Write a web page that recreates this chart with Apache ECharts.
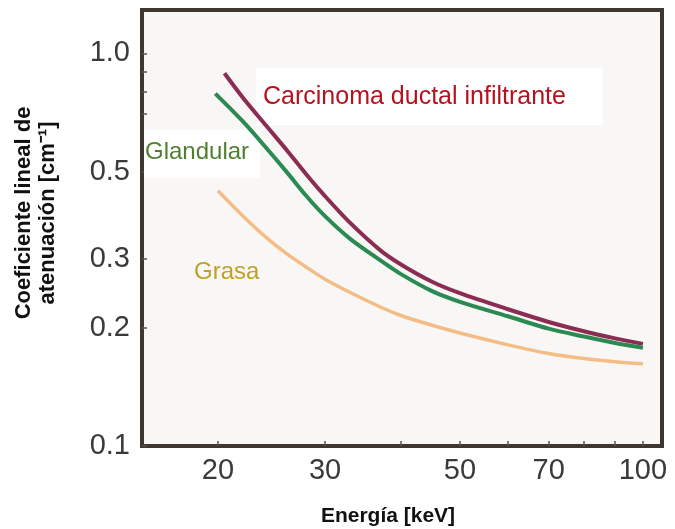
<!DOCTYPE html>
<html>
<head>
<meta charset="utf-8">
<script src="https://cdn.jsdelivr.net/npm/echarts@6/dist/echarts.min.js"></script>
<style>
  html, body { margin: 0; padding: 0; background: #fff; }
  #chart { width: 675px; height: 529px; }
</style>
</head>
<body>
<div id="chart"></div>
<script>
// energia en keV y coeficiente lineal de atenuacion en cm^-1
var energiaCarcinoma = [20.5, 22, 24, 26, 28, 30, 33, 37, 40, 45, 50, 60, 70, 80, 90, 100];
var muCarcinoma = [0.89, 0.77, 0.655, 0.565, 0.49, 0.433, 0.37, 0.315, 0.29, 0.262, 0.245, 0.223, 0.207, 0.196, 0.188, 0.182];

var energiaGlandular = [19.8, 22, 24, 26, 28, 30, 33, 37, 40, 45, 50, 60, 70, 80, 90, 100];
var muGlandular = [0.79, 0.67, 0.575, 0.497, 0.432, 0.385, 0.337, 0.297, 0.274, 0.248, 0.233, 0.214, 0.199, 0.190, 0.183, 0.178];

var energiaGrasa = [20, 22, 24, 26, 28, 30, 33, 37, 40, 45, 50, 60, 70, 80, 90, 100];
var muGrasa = [0.447, 0.385, 0.34, 0.308, 0.285, 0.266, 0.246, 0.226, 0.215, 0.203, 0.194, 0.181, 0.172, 0.167, 0.164, 0.162];

var xTicks = [20, 30, 40, 50, 60, 70, 80, 90, 100];
var xLabels = [20, 30, 50, 70, 100];
var yTicks = [0.1, 0.2, 0.3, 0.5, 0.7, 0.8, 0.9, 1.0];
var yLabels = [0.1, 0.2, 0.3, 0.5, 1.0];

function pares(xs, ys) {
  return xs.map(function (x, i) { return [x, ys[i]]; });
}

var fuente = 'Liberation Sans, Arial, Helvetica, sans-serif';
var myChart = echarts.init(document.getElementById('chart'));

var option = {
  animation: false,
  backgroundColor: '#ffffff',
  grid: {
    left: 142, right: 13, top: 10, bottom: 83,
    show: true,
    backgroundColor: '#f8f7f5',
    borderColor: '#3d3631',
    borderWidth: 4
  },
  xAxis: {
    type: 'log',
    min: 15,
    max: 107.5,
    axisLine: { show: false },
    splitLine: { show: false },
    axisTick: {
      show: true, inside: true, length: 5,
      customValues: xTicks,
      lineStyle: { color: '#5a544f', width: 1.5 }
    },
    axisLabel: {
      customValues: xLabels,
      margin: 10,
      fontSize: 29,
      fontFamily: fuente,
      color: '#3a3a3a'
    }
  },
  yAxis: {
    type: 'log',
    min: 0.1,
    max: 1.29,
    axisLine: { show: false },
    splitLine: { show: false },
    axisTick: {
      show: true, inside: true, length: 5,
      customValues: yTicks,
      lineStyle: { color: '#5a544f', width: 1.5 }
    },
    axisLabel: {
      customValues: yLabels,
      margin: 12,
      fontSize: 29,
      fontFamily: fuente,
      color: '#3a3a3a',
      formatter: function (v) { return Number(v).toFixed(1); }
    }
  },
  graphic: [
    // titulos de ejes
    {
      type: 'text', x: 388, y: 516,
      style: {
        text: 'Energía [keV]', fontSize: 21, fontWeight: 'bold', fontFamily: fuente,
        fill: '#111', align: 'center', verticalAlign: 'middle'
      }
    },
    {
      type: 'text', x: 24, y: 213, rotation: Math.PI / 2,
      style: {
        text: 'Coeficiente lineal de', fontSize: 22, fontWeight: 'bold', fontFamily: fuente,
        fill: '#111', align: 'center', verticalAlign: 'middle'
      }
    },
    {
      type: 'text', x: 48, y: 213, rotation: Math.PI / 2,
      style: {
        text: 'atenuación [cm⁻¹]', fontSize: 22, fontWeight: 'bold', fontFamily: fuente,
        fill: '#111', align: 'center', verticalAlign: 'middle'
      }
    },
    // etiquetas de las curvas
    {
      type: 'rect', shape: { x: 256, y: 68, width: 347, height: 57 },
      style: { fill: '#ffffff' }, z: 5
    },
    {
      type: 'text', x: 263, y: 97, z: 6,
      style: {
        text: 'Carcinoma ductal infiltrante', fontSize: 25, fontFamily: fuente,
        fill: '#b3121f', align: 'left', verticalAlign: 'middle'
      }
    },
    {
      type: 'rect', shape: { x: 144, y: 130, width: 116, height: 48 },
      style: { fill: '#ffffff' }, z: 5
    },
    {
      type: 'text', x: 145, y: 152, z: 6,
      style: {
        text: 'Glandular', fontSize: 24, fontFamily: fuente,
        fill: '#4e7f30', align: 'left', verticalAlign: 'middle'
      }
    },
    {
      type: 'text', x: 194, y: 272, z: 6,
      style: {
        text: 'Grasa', fontSize: 24, fontFamily: fuente,
        fill: '#bea224', align: 'left', verticalAlign: 'middle'
      }
    }
  ],
  series: [
    {
      name: 'Grasa', type: 'line', smooth: 0.3, showSymbol: false, z: 10,
      lineStyle: { color: '#f4bd86', width: 3.5 },
      data: pares(energiaGrasa, muGrasa)
    },
    {
      name: 'Carcinoma ductal infiltrante', type: 'line', smooth: 0.3, showSymbol: false, z: 10,
      lineStyle: { color: '#8b2c52', width: 4 },
      data: pares(energiaCarcinoma, muCarcinoma)
    },
    {
      name: 'Glandular', type: 'line', smooth: 0.3, showSymbol: false, z: 11,
      lineStyle: { color: '#2b8a52', width: 4 },
      data: pares(energiaGlandular, muGlandular)
    }
  ]
};
myChart.setOption(option);
</script>
</body>
</html>
